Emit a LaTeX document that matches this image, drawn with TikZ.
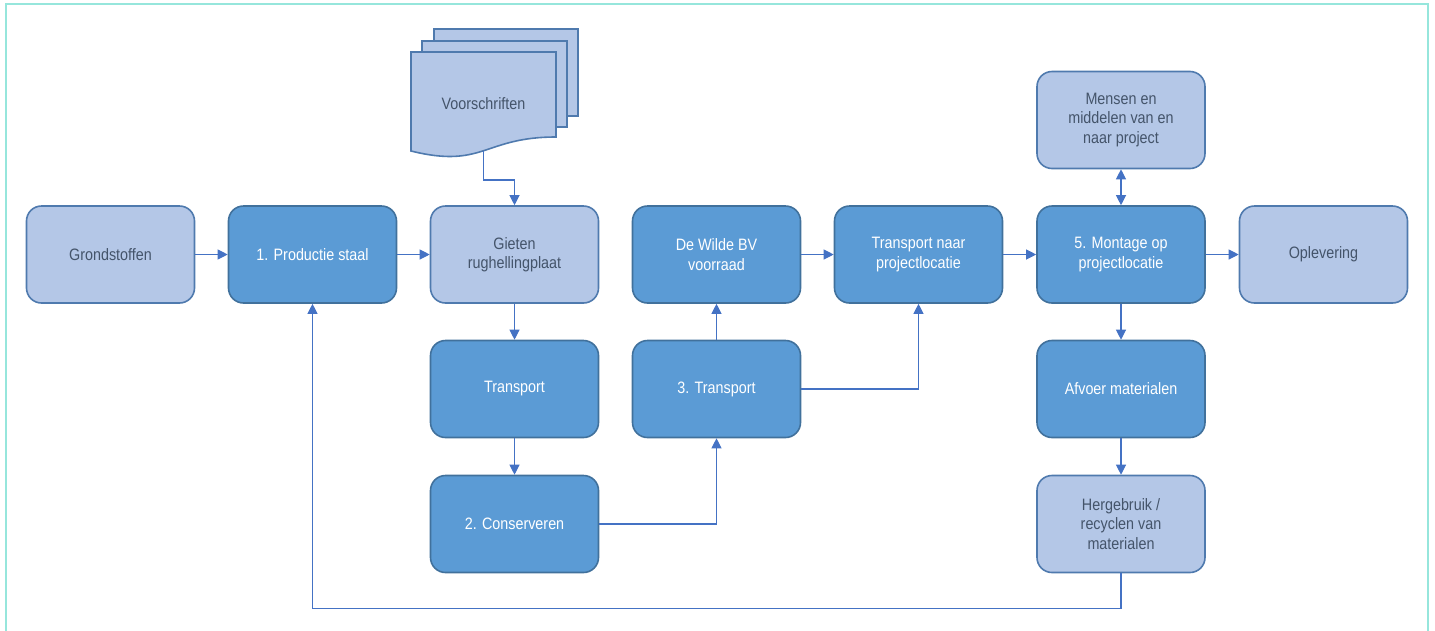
\documentclass[tikz,border=0pt]{standalone}
\usepackage{fontspec}
\setmainfont{Liberation Sans}[FakeStretch=0.87]
\usetikzlibrary{arrows.meta,calc}
\definecolor{darkfill}{HTML}{5B9BD5}
\definecolor{darkline}{HTML}{41719C}
\definecolor{lightfill}{HTML}{B4C7E7}
\definecolor{lightline}{HTML}{4F7AAE}
\definecolor{greytext}{HTML}{44546A}
\definecolor{conn}{HTML}{4472C4}
\definecolor{frame}{HTML}{96E6DC}
\tikzset{
  base/.style={rectangle, rounded corners=15pt, minimum width=168pt, minimum height=97pt,
    line width=1.6pt, align=center, font=\fontsize{16.5}{19.5}\selectfont, inner sep=2pt},
  darkbox/.style={base, fill=darkfill, draw=darkline, text=white},
  lightbox/.style={base, fill=lightfill, draw=lightline, text=greytext},
  doc/.style={fill=lightfill, draw=lightline, line width=1.6pt, line join=miter},
  conn/.style={draw=conn, line width=1.1pt, -{Triangle[length=10pt,width=10pt]}},
  dconn/.style={draw=conn, line width=1.1pt, {Triangle[length=10pt,width=10pt]}-{Triangle[length=10pt,width=10pt]}},
  plain/.style={draw=conn, line width=1.1pt}
}
\begin{document}
\begin{tikzpicture}[x=1pt,y=-1pt]
\useasboundingbox (0,0) rectangle (1435,630);
\begin{scope}
\clip (0,0) rectangle (1435,630);
\draw[frame, line width=2pt] (6,640) -- (6,4) -- (1428,4) -- (1428,640);
\end{scope}

% Voorschriften document stack
\draw[doc] (434,29) rectangle (578,116);
\draw[doc] (422,41) rectangle (567,127);
\draw[doc] (411,52) -- (556,52) -- (556,137) .. controls (483.5,137) and (483.5,169) .. (411,151) -- cycle;
\node[text=greytext, font=\fontsize{16.5}{19.5}\selectfont] (voor) at (483.5,104) {Voorschriften};
\coordinate (voorb) at (483.5,151);

% Row 1
\node[lightbox] (grond) at (110.5,254.5) {Grondstoffen};
\node[darkbox]  (prod)  at (312.5,254.5) {1. Productie staal};
\node[lightbox] (giet)  at (514.5,254.5) {Gieten\\rughellingplaat};
\node[darkbox]  (wilde) at (716.5,254.5) {De Wilde BV\\voorraad};
\node[darkbox]  (tnaar) at (918.5,254.5) {Transport naar\\projectlocatie};
\node[darkbox]  (mont)  at (1121,254.5) {5. Montage op\\projectlocatie};
\node[lightbox] (oplev) at (1323.5,254.5) {Oplevering};
% Row 2
\node[darkbox]  (trans) at (514.5,389) {Transport};
\node[darkbox]  (tr3)   at (716.5,389) {3. Transport};
\node[darkbox]  (afv)   at (1121,389) {Afvoer materialen};
% Row 3
\node[darkbox]  (cons)  at (514.5,524) {2. Conserveren};
\node[lightbox] (herg)  at (1121,524) {Hergebruik /\\recyclen van\\materialen};
% Top
\node[lightbox] (mens)  at (1121,120) {Mensen en\\middelen van en\\naar project};

% Connectors
\draw[conn] (grond) -- (prod);
\draw[conn] (prod) -- (giet);
\draw[conn] (wilde) -- (tnaar);
\draw[conn] (tnaar) -- (mont);
\draw[conn] (mont) -- (oplev);
\draw[conn] (voorb) -- ++(0,29) -| (giet.north);
\draw[conn] (giet) -- (trans);
\draw[conn] (trans) -- (cons);
\draw[conn] (cons.east) -| (tr3.south);
\draw[conn] (tr3) -- (wilde);
\draw[conn] (tr3.east) -| (tnaar.south);
\draw[dconn] (mens) -- (mont);
\draw[conn] (mont) -- (afv);
\draw[conn] (afv) -- (herg);
\draw[conn] (herg.south) -- ++(0,35) -| (prod.south);
\end{tikzpicture}
\end{document}
